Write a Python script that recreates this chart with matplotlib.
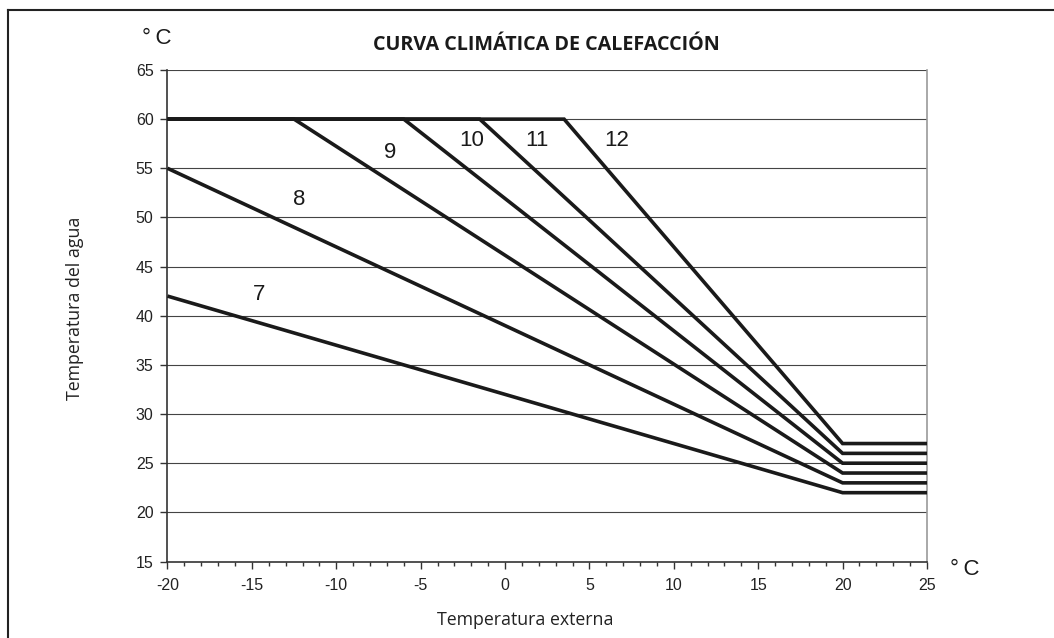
import matplotlib
matplotlib.use("Agg")
import matplotlib.pyplot as plt
from matplotlib.lines import Line2D
from matplotlib.ticker import MultipleLocator

plt.rcParams["axes.unicode_minus"] = False

# Heating curves: outside temperature breakpoints and water temperature
curve_names = ["7", "8", "9", "10", "11", "12"]
curve_x = [
    [-20, 20, 25],
    [-20, 20, 25],
    [-20, -12.5, 20, 25],
    [-20, -6, 20, 25],
    [-20, -1.5, 20, 25],
    [-20, 3.5, 20, 25],
]
curve_y = [
    [42, 22, 22],
    [55, 23, 23],
    [60, 60, 24, 24],
    [60, 60, 25, 25],
    [60, 60, 26, 26],
    [60, 60, 27, 27],
]
# Where each curve number is written
label_x = [-14.6, -12.2, -6.8, -2.0, 1.9, 6.6]
label_y = [42.2, 51.8, 56.6, 57.8, 57.8, 57.8]

x_ticks = [-20, -15, -10, -5, 0, 5, 10, 15, 20, 25]
y_ticks = [15, 20, 25, 30, 35, 40, 45, 50, 55, 60, 65]

title = "CURVA CLIMÁTICA DE CALEFACCIÓN"
x_label = "Temperatura externa"
y_label = "Temperatura del agua"
unit = "°\u2009C"

tick_font = "Liberation Sans"
text_font = "Open Sans"

fig = plt.figure(figsize=(10.54, 6.38), dpi=100)
ax = fig.add_axes([0.1589, 0.1199, 0.7206, 0.7704])

for gy in y_ticks[1:]:
    ax.axhline(gy, color="#444444", lw=0.8, zorder=1)

for xs, ys in zip(curve_x, curve_y):
    ax.plot(xs, ys, color="#1a1a1a", lw=2.6, solid_joinstyle="miter",
            solid_capstyle="butt", zorder=3)

for name, lx, ly in zip(curve_names, label_x, label_y):
    ax.text(lx, ly, name, fontsize=16, family=tick_font, color="#1a1a1a",
            ha="center", va="center", zorder=4)

ax.set_xlim(-20, 25)
ax.set_ylim(15, 65)
ax.set_xticks(x_ticks)
ax.set_yticks(y_ticks)
ax.xaxis.set_minor_locator(MultipleLocator(1))
ax.tick_params(axis="both", which="major", direction="out", length=5,
               width=1, color="#333333", labelsize=11.5)
ax.tick_params(axis="x", which="major", pad=7)
ax.tick_params(axis="y", which="major", pad=5)
ax.tick_params(axis="x", which="minor", direction="out", length=3,
               width=1, color="#333333")
for lab in ax.get_xticklabels() + ax.get_yticklabels():
    lab.set_family(tick_font)
    lab.set_color("#222222")

ax.spines["left"].set_color("#333333")
ax.spines["bottom"].set_color("#333333")
ax.spines["left"].set_linewidth(1.2)
ax.spines["bottom"].set_linewidth(1.2)
ax.spines["right"].set_color("#999999")
ax.spines["right"].set_linewidth(1.2)
ax.spines["top"].set_visible(False)

fig.text(0.4985, 0.028, x_label, fontsize=12.8, family=text_font,
         color="#222222", ha="center", va="center")
fig.text(0.0712, 0.5165, y_label, fontsize=12.8, family=text_font,
         color="#222222", ha="center", va="center", rotation=90)

fig.text(0.518, 0.929, title, fontsize=14.2, fontweight="bold",
         family=text_font, color="#1a1a1a", ha="center", va="center")
fig.text(0.149, 0.939, unit, fontsize=16, family=tick_font,
         color="#1a1a1a", ha="center", va="center")
fig.text(0.9155, 0.107, unit, fontsize=16, family=tick_font,
         color="#1a1a1a", ha="center", va="center")

# Page frame (top and left edges)
fig.add_artist(Line2D([0.0076, 1.0], [0.984, 0.984], transform=fig.transFigure,
                      color="#222222", lw=1.5))
fig.add_artist(Line2D([0.0076, 0.0076], [0.0, 0.984], transform=fig.transFigure,
                      color="#222222", lw=1.5))

fig.savefig("out.png", dpi=100)
